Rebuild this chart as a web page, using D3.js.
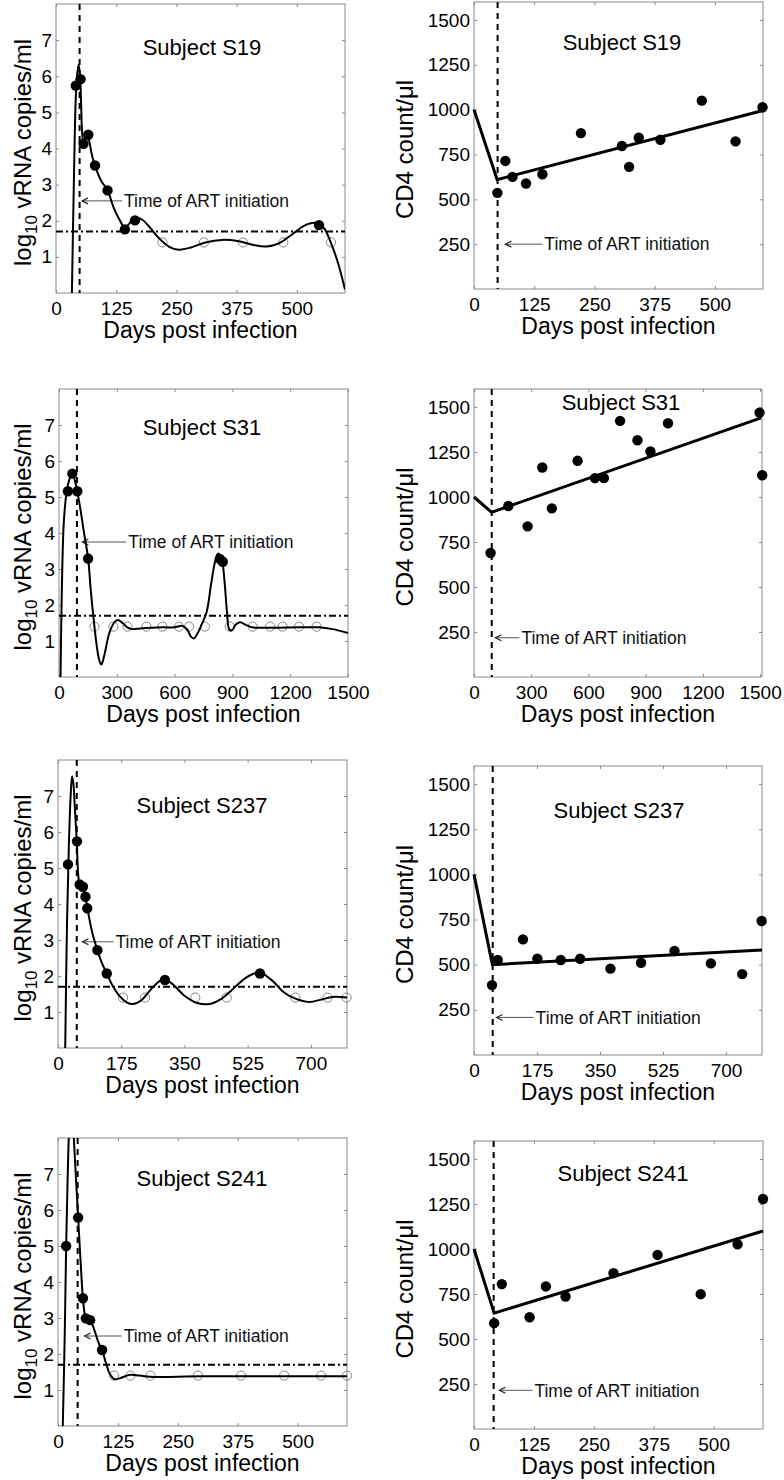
<!DOCTYPE html>
<html><head><meta charset="utf-8">
<script src="https://cdn.jsdelivr.net/npm/d3@7"></script>
<style>
body{margin:0;background:#fff;}
svg{display:block;}
</style></head><body>
<svg id="chart" width="784" height="1480"></svg>
<script>
// ---------------- DATA ----------------
const subjects = ["Subject S19", "Subject S31", "Subject S237", "Subject S241"];
const artDays = [49, 93, 52, 41];
const vrnaDayMax = [600, 1500, 800, 603];
const cd4DayMax = [600, 1510, 800, 603];
const xTickValues = [
  [0, 125, 250, 375, 500],
  [0, 300, 600, 900, 1200, 1500],
  [0, 175, 350, 525, 700],
  [0, 125, 250, 375, 500]
];
const vrnaTicks = [1, 2, 3, 4, 5, 6, 7];
const cd4Ticks = [250, 500, 750, 1000, 1250, 1500];
const detectionLimit = 1.7;

// Subject S19
const s19VrnaDetected = [[41,5.74],[51,5.92],[57,4.13],[67,4.38],[81,3.53],[107,2.84],[143,1.76],[164,2.01],[546,1.88]];
const s19VrnaBelow = [[221,1.4],[307,1.4],[388,1.4],[472,1.4],[571,1.4]];
const s19VrnaFit = [[33,0],[37,3.0],[41,5.4],[44,6.05],[47,6.32],[50,6.0],[52,5.3],[54,4.5],[57,4.15],[61,4.3],[65,4.4],[69,4.2],[75,3.8],[81,3.52],[94,3.1],[107,2.84],[120,2.35],[133,2.0],[143,1.8],[152,1.92],[166,2.08],[180,2.02],[197,1.78],[215,1.5],[235,1.28],[255,1.2],[280,1.26],[310,1.4],[345,1.47],[380,1.43],[410,1.33],[437,1.29],[462,1.37],[490,1.62],[515,1.86],[538,1.94],[555,1.82],[571,1.38],[585,0.85],[600,0.1]];
const s19Cd4Obs = [[48.5,536],[65,714],[80,625],[108,588],[142,640],[222,869],[307,797],[322,681],[342,843],[387,832],[473,1050],[543,823],[599,1013]];
const s19Cd4Fit = [[0,1000],[48,610],[600,995]];

// Subject S31
const s31VrnaDetected = [[46,5.16],[69,5.65],[95,5.16],[151,3.29],[835,3.28],[850,3.2]];
const s31VrnaBelow = [[184,1.4],[282,1.4],[356,1.4],[454,1.4],[537,1.4],[623,1.4],[675,1.4],[757,1.4],[886,1.4],[1005,1.4],[1096,1.4],[1160,1.4],[1246,1.4],[1337,1.4]];
const s31VrnaFit = [[8,0],[15,2.5],[25,4.3],[40,5.15],[55,5.5],[70,5.62],[85,5.4],[95,5.15],[110,4.7],[130,4.0],[151,3.3],[165,2.4],[178,1.7],[195,0.9],[210,0.45],[220,0.35],[235,0.6],[260,1.2],[285,1.5],[305,1.58],[330,1.5],[355,1.38],[380,1.33],[420,1.35],[480,1.37],[540,1.38],[600,1.38],[640,1.42],[665,1.32],[685,1.12],[700,1.07],[718,1.2],[740,1.45],[766,1.8],[790,2.6],[810,3.2],[826,3.43],[845,3.25],[860,2.6],[872,1.8],[884,1.32],[898,1.3],[918,1.46],[940,1.52],[970,1.45],[1000,1.38],[1100,1.37],[1250,1.38],[1350,1.38],[1420,1.33],[1500,1.22]];
const s31Cd4Obs = [[87,689],[180,950],[281,837],[358,1164],[408,937],[543,1201],[634,1105],[681,1105],[766,1423],[857,1315],[925,1253],[1017,1410],[1497,1469],[1511,1121]];
const s31Cd4Fit = [[0,1000],[92,915],[1505,1440]];

// Subject S237
const s237VrnaDetected = [[27.6,5.1],[52.5,5.74],[60,4.54],[69,4.48],[76,4.2],[81,3.88],[109,2.72],[135,2.07],[296,1.89],[559,2.07]];
const s237VrnaBelow = [[180,1.4],[241,1.4],[380,1.4],[467,1.4],[657,1.4],[746,1.4],[799,1.4]];
const s237VrnaFit = [[20,0],[25,3.5],[30,5.6],[35,7.0],[39,7.55],[43,7.3],[47,6.6],[52,5.75],[56,4.8],[60,4.55],[65,4.5],[70,4.45],[76,4.2],[81,3.9],[95,3.2],[109,2.72],[122,2.35],[135,2.07],[150,1.75],[170,1.45],[190,1.27],[207,1.22],[230,1.32],[255,1.6],[280,1.85],[296,1.9],[320,1.75],[350,1.45],[385,1.25],[419,1.22],[450,1.35],[480,1.6],[520,1.95],[557,2.1],[590,1.9],[625,1.55],[657,1.37],[695,1.28],[730,1.35],[760,1.42],[800,1.4]];
const s237Cd4Obs = [[50,387],[66,526],[136,640],[176,533],[241,526],[295,533],[379,478],[464,511],[557,576],[658,507],[745,448],[799,742]];
const s237Cd4Fit = [[0,1000],[51,500],[800,581]];

// Subject S241
const s241VrnaDetected = [[17,5.0],[42,5.79],[52,3.55],[58,2.99],[67,2.94],[92,2.11]];
const s241VrnaBelow = [[117,1.4],[151,1.4],[193,1.4],[292,1.4],[382,1.4],[472,1.4],[549,1.4],[603,1.4]];
const s241VrnaFit = [[10,0],[14,2.5],[17,5.0],[20,6.8],[23,8.2],[27,9.1],[30,8.8],[33,8.0],[37,7.0],[42,5.8],[47,4.6],[52,3.55],[56,3.1],[60,2.97],[67,2.94],[75,2.7],[85,2.3],[92,2.1],[100,1.75],[108,1.45],[118,1.3],[130,1.33],[150,1.42],[170,1.4],[200,1.36],[250,1.37],[300,1.38],[400,1.38],[500,1.38],[603,1.38]];
const s241Cd4Obs = [[42,588],[58,805],[116,621],[150,792],[191,736],[291,866],[383,967],[473,749],[550,1026],[603,1278]];
const s241Cd4Fit = [[0,1000],[42,644],[603,1100]];

const vrnaDetected = [s19VrnaDetected, s31VrnaDetected, s237VrnaDetected, s241VrnaDetected];
const vrnaBelow = [s19VrnaBelow, s31VrnaBelow, s237VrnaBelow, s241VrnaBelow];
const vrnaFit = [s19VrnaFit, s31VrnaFit, s237VrnaFit, s241VrnaFit];
const cd4Obs = [s19Cd4Obs, s31Cd4Obs, s237Cd4Obs, s241Cd4Obs];
const cd4Fit = [s19Cd4Fit, s31Cd4Fit, s237Cd4Fit, s241Cd4Fit];

// annotation anchor (arrow tip) in data units
const vrnaArtArrow = [[52,2.55],[116,3.75],[65,2.95],[53.5,2.5]];
const cd4ArtArrow = [[63,250],[107,218],[60,208],[51,215]];

// ---------------- LAYOUT ----------------
const leftBoxes = [[56,4,345,293],[59,389,348,677],[58,760,347,1048],[58,1138,347,1426]];
const rightBoxes = [[474,2,763,289],[474,389,762,677],[474,766,762,1055],[474,1141,763,1429]];
const leftSubj = [[202,55],[202,435],[202,813],[202,1186]];
const rightSubj = [[622,50],[621,410],[619,818],[623,1181]];
const leftArtGap = [43,47,34,40];
const rightArtGap = [40,27,40,36];
const titleOffset = 45;

const FONT = '"Liberation Sans", Arial, Helvetica, sans-serif';
const BOX = "#8a8a8a";
const svg = d3.select("#chart").style("font-family", FONT);

function drawFrame(g, x, y, xticks, yticks) {
  const [x0, x1] = x.range();
  const [yb, yt] = y.range();
  g.append("rect").attr("x", x0).attr("y", yt).attr("width", x1 - x0).attr("height", yb - yt)
    .attr("fill", "none").attr("stroke", BOX).attr("stroke-width", 1);
  const style = a => {
    a.select(".domain").remove();
    a.selectAll(".tick line").attr("stroke", BOX);
    a.attr("font-family", FONT).attr("font-size", 19);
    a.selectAll("text").attr("fill", "#000");
  };
  g.append("g").attr("transform", `translate(0,${yb})`)
    .call(d3.axisBottom(x).tickValues(xticks).tickSizeInner(-3).tickSizeOuter(0).tickPadding(8.5).tickFormat(d3.format("d")))
    .call(style);
  g.append("g").attr("transform", `translate(0,${yt})`)
    .call(d3.axisTop(x).tickValues(xticks).tickSizeInner(-3).tickSizeOuter(0).tickFormat(""))
    .call(style);
  g.append("g").attr("transform", `translate(${x0},0)`)
    .call(d3.axisLeft(y).tickValues(yticks).tickSizeInner(-3).tickSizeOuter(0).tickPadding(4).tickFormat(d3.format("d")))
    .call(style);
  g.append("g").attr("transform", `translate(${x1},0)`)
    .call(d3.axisRight(y).tickValues(yticks).tickSizeInner(-3).tickSizeOuter(0).tickFormat(""))
    .call(style);
  g.append("text").attr("x", (x0 + x1) / 2).attr("y", yb + titleOffset)
    .attr("text-anchor", "middle").attr("font-size", 23).text("Days post infection");
}

function artAnnot(g, x, y, tip, gap, xart) {
  const [yb, yt] = y.range();
  g.append("line").attr("x1", x(xart)).attr("x2", x(xart)).attr("y1", yt).attr("y2", yb)
    .attr("stroke", "#000").attr("stroke-width", 2).attr("stroke-dasharray", "6,5");
  const tx = x(tip[0]), ty = y(tip[1]);
  g.append("line").attr("x1", tx + 1).attr("x2", tx + gap - 2).attr("y1", ty).attr("y2", ty)
    .attr("stroke", "#555").attr("stroke-width", 1);
  g.append("path").attr("d", `M${tx + 7},${ty - 3}L${tx + 1},${ty}L${tx + 7},${ty + 3}`)
    .attr("fill", "none").attr("stroke", "#222").attr("stroke-width", 1.2);
  g.append("text").attr("x", tx + gap).attr("y", ty).attr("dy", "0.36em")
    .attr("font-size", 17.5).attr("fill", "#111").text("Time of ART initiation");
}

for (let i = 0; i < 4; i++) {
  // ---- vRNA panel ----
  {
    const [x0, y0, x1, y1] = leftBoxes[i];
    const x = d3.scaleLinear().domain([0, vrnaDayMax[i]]).range([x0, x1]);
    const y = d3.scaleLinear().domain([0, 8]).range([y1, y0]);
    const g = svg.append("g");
    const clipId = "clipL" + i;
    svg.append("clipPath").attr("id", clipId).append("rect")
      .attr("x", x0).attr("y", y0).attr("width", x1 - x0).attr("height", y1 - y0);
    drawFrame(g, x, y, xTickValues[i], vrnaTicks);
    g.append("line").attr("x1", x0).attr("x2", x1).attr("y1", y(detectionLimit)).attr("y2", y(detectionLimit))
      .attr("stroke", "#000").attr("stroke-width", 2).attr("stroke-dasharray", "7,3,2,3");
    artAnnot(g, x, y, vrnaArtArrow[i], leftArtGap[i], artDays[i]);
    g.selectAll(".oc").data(vrnaBelow[i]).enter().append("circle")
      .attr("cx", d => x(d[0])).attr("cy", d => y(d[1])).attr("r", 4.6)
      .attr("fill", "none").attr("stroke", "#777").attr("stroke-width", 0.9);
    const line = d3.line().x(d => x(d[0])).y(d => y(d[1])).curve(d3.curveCatmullRom.alpha(0.5));
    g.append("path").attr("d", line(vrnaFit[i])).attr("clip-path", `url(#${clipId})`)
      .attr("fill", "none").attr("stroke", "#000").attr("stroke-width", 2);
    g.selectAll(".fc").data(vrnaDetected[i]).enter().append("circle")
      .attr("cx", d => x(d[0])).attr("cy", d => y(d[1])).attr("r", 5.2).attr("fill", "#000");
    g.append("text").attr("x", leftSubj[i][0]).attr("y", leftSubj[i][1]).attr("text-anchor", "middle")
      .attr("font-size", 22).text(subjects[i]);
    const t = g.append("text").attr("transform", `translate(31,${(y0 + y1) / 2 + 4}) rotate(-90)`)
      .attr("text-anchor", "middle").attr("font-size", 24);
    t.append("tspan").text("log");
    t.append("tspan").attr("font-size", 17).attr("dy", "0.35em").text("10");
    t.append("tspan").attr("dy", "-0.25em").text(" vRNA copies/ml");
  }
  // ---- CD4 panel ----
  {
    const [x0, y0, x1, y1] = rightBoxes[i];
    const x = d3.scaleLinear().domain([0, cd4DayMax[i]]).range([x0, x1]);
    const y = d3.scaleLinear().domain([0, 1600]).range([y1, y0]);
    const g = svg.append("g");
    drawFrame(g, x, y, xTickValues[i], cd4Ticks);
    artAnnot(g, x, y, cd4ArtArrow[i], rightArtGap[i], artDays[i]);
    const line = d3.line().x(d => x(d[0])).y(d => y(d[1]));
    g.append("path").attr("d", line(cd4Fit[i]))
      .attr("fill", "none").attr("stroke", "#000").attr("stroke-width", 3).attr("stroke-linejoin", "miter");
    g.selectAll(".fc").data(cd4Obs[i]).enter().append("circle")
      .attr("cx", d => x(d[0])).attr("cy", d => y(d[1])).attr("r", 5.2).attr("fill", "#000");
    g.append("text").attr("x", rightSubj[i][0]).attr("y", rightSubj[i][1]).attr("text-anchor", "middle")
      .attr("font-size", 22).text(subjects[i]);
    g.append("text").attr("transform", `translate(413,${(y0 + y1) / 2 + 4}) rotate(-90)`)
      .attr("text-anchor", "middle").attr("font-size", 24).text("CD4 count/μl");
  }
}
</script>
</body></html>
